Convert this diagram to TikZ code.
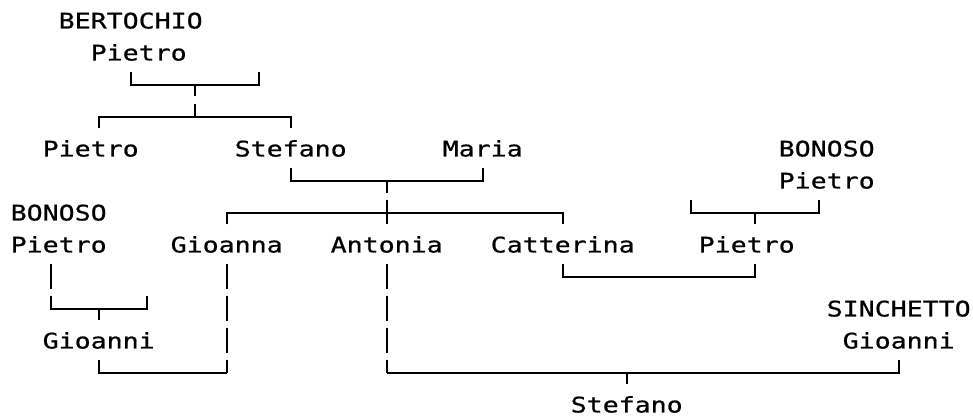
\documentclass[tikz,border=0pt]{standalone}
\usepackage{fontspec}
\newfontfamily\treefont[FakeStretch=1.2361,FakeBold=0.7]{DejaVu Sans Mono}
\begin{document}
\begin{tikzpicture}[x=16pt,y=-32pt,
  person/.style={anchor=base west, inner sep=0pt, outer sep=0pt,
    font=\treefont\fontsize{21.5}{25}\selectfont},
  link/.style={line width=2pt, line cap=butt, line join=miter},
  span/.style={link, dash pattern=on 24.5pt off 7.5pt},
  fromrow/.style={span, dash phase=13pt},
  fromtick/.style={span, dash phase=0pt}]
\def\up{0.40625}
\def\dn{0.359}
\path[use as bounding box, fill=white] (-1.16875,-0.65625) rectangle (59.64375,12.375);

% people
\node[person] (bertA) at (2.5,0.234) {BERTOCHIO};
\node[person] (bertB) at (4.5,1.234) {Pietro};
\node[person] (pietroS) at (1.5,4.234) {Pietro};
\node[person] (stefano) at (13.5,4.234) {Stefano};
\node[person] (maria) at (26.5,4.234) {Maria};
\node[person] (bonRA) at (47.5,4.234) {BONOSO};
\node[person] (bonRB) at (47.5,5.234) {Pietro};
\node[person] (bonLA) at (-0.5,6.234) {BONOSO};
\node[person] (bonLB) at (-0.5,7.234) {Pietro};
\node[person] (gioanna) at (9.5,7.234) {Gioanna};
\node[person] (antonia) at (19.5,7.234) {Antonia};
\node[person] (catterina) at (29.5,7.234) {Catterina};
\node[person] (pietroC) at (42.5,7.234) {Pietro};
\node[person] (sinA) at (50.5,9.234) {SINCHETTO};
\node[person] (sinB) at (51.5,10.234) {Gioanni};
\node[person] (gioanni) at (1.5,10.234) {Gioanni};
\node[person] (stefanoJ) at (34.5,12.234) {Stefano};

% junction points
\coordinate (jBert) at (11,2);
\coordinate (jBertKids) at (11,3);
\coordinate (jSM) at (23,5);
\coordinate (jSMKids) at (23,6);
\coordinate (jBonR) at (46,6);
\coordinate (jBonL) at (5,9);
\coordinate (jBonLcorner) at (2,9);
\coordinate (jGG) at (13,11);
\coordinate (jAnt) at (23,11);
\coordinate (jAS) at (38,11);

% Bertochio Pietro -> Pietro, Stefano
\draw[link] (7,2-\up) -- (7,2) -- (15,2) -- (15,2-\up);
\draw[fromrow] (jBert) -- (jBertKids);
\draw[link] (5,3+\dn) -- (5,3) -- (17,3) -- (17,3+\dn);

% Stefano + Maria -> Gioanna, Antonia, Catterina
\draw[link] (17,5-\up) -- (17,5) -- (29,5) -- (29,5-\up);
\draw[fromrow] (jSM) -- (23,6+\dn);
\draw[link] (13,6+\dn) -- (13,6) -- (34,6) -- (34,6+\dn);

% Bonoso Pietro (right) -> Pietro
\draw[link] (42,6-\up) -- (42,6) -- (50,6) -- (50,6-\up);
\draw[link] (jBonR) -- (46,6+\dn);

% Catterina + Pietro
\draw[link] (34,8-\up) -- (34,8) -- (46,8) -- (46,8-\up);

% Bonoso Pietro (left) -> Gioanni
\draw[fromtick] (2,8-\up) -- (jBonLcorner);
\draw[link] (2,9-0.03) -- (2,9) -- (8,9) -- (8,9-\up);
\draw[link] (jBonL) -- (5,9+\dn);

% Gioanni + Gioanna
\draw[link] (5,11-\up) -- (5,11) -- (jGG);
\draw[fromtick] (13,8-\up) -- (jGG);

% Antonia + Sinchetto Gioanni -> Stefano
\draw[fromtick] (23,8-\up) -- (jAnt);
\draw[link] (jAnt) -- (55,11) -- (55,11-\up);
\draw[link] (jAS) -- (38,11+\dn);
\end{tikzpicture}
\end{document}
